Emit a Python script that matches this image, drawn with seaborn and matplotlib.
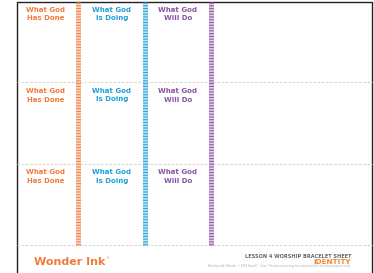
import matplotlib
matplotlib.use("Agg")
import matplotlib.pyplot as plt
import seaborn as sns

# worksheet content
titles_top = ["What God", "What God", "What God"]
titles_bottom = ["Has Done", "Is Doing", "Will Do"]
title_colors = ["#f27b3b", "#1d9fdc", "#8b52a1"]
n_rows = 3
footer_brand = "Wonder Ink"
footer_lesson = "LESSON 4 WORSHIP BRACELET SHEET"
footer_topic = "IDENTITY"
footer_small = "Worship with Wonder \u00a9 2015 David C. Cook. This document may be reproduced for ministry purposes only."

sns.set_style("white")
plt.rcParams["font.family"] = ["DejaVu Sans"]
plt.rcParams["lines.scale_dashes"] = False

fig = plt.figure(figsize=(3.74, 2.73), dpi=100)
ax = fig.add_axes([0, 0, 1, 1])
ax.set_xlim(0, 374)
ax.set_ylim(273, 0)
ax.axis("off")

# page frame
left, right, top = 17, 372, 1.5
ax.plot([left, left, right, right], [280, top, top, 280], color="#222222", lw=1.0)

# row separators
row_h = 81.5
for r in range(1, n_rows + 1):
    y = top + r * row_h - 1
    ax.plot([left, right], [y, y], color="#d8d8d8", lw=0.8, ls=(0, (2, 1)))

# striped bracelet columns
col_x = [78.5, 145, 211]
stripe_bottom = top + n_rows * row_h - 1
for x, c in zip(col_x, title_colors):
    ax.plot([x, x], [top, stripe_bottom], color=c, lw=3.6, alpha=0.3, solid_capstyle="butt")
    ax.plot([x, x], [top, stripe_bottom], color=c, lw=3.6, ls=(0, (0.8, 1.2)), alpha=0.9,
            solid_capstyle="butt", dash_capstyle="butt")

# titles in each cell
text_x = [46, 112, 178]
for r in range(n_rows):
    y0 = top + r * row_h
    for x, t1, t2, c in zip(text_x, titles_top, titles_bottom, title_colors):
        ax.text(x, y0 + 8, t1, color=c, fontsize=5, fontweight="bold", ha="center", va="center")
        ax.text(x, y0 + 16.5, t2, color=c, fontsize=5, fontweight="bold", ha="center", va="center")

# footer
ax.text(34, 262, footer_brand, color="#ee7d3c", fontsize=8, fontweight="bold", ha="left", va="center")
ax.text(106, 258, "\u00ae", color="#ee7d3c", fontsize=2.5, ha="left", va="center")
ax.text(351, 256, footer_lesson, color="#666666", fontsize=3.6, fontweight="bold", ha="right", va="center")
ax.text(351, 261.5, footer_topic, color="#f28a2e", fontsize=5.2, fontweight="bold", ha="right", va="center")
ax.text(351, 266, footer_small, color="#aaaaaa", fontsize=1.9, ha="right", va="center")

fig.savefig("out.png", dpi=100)
